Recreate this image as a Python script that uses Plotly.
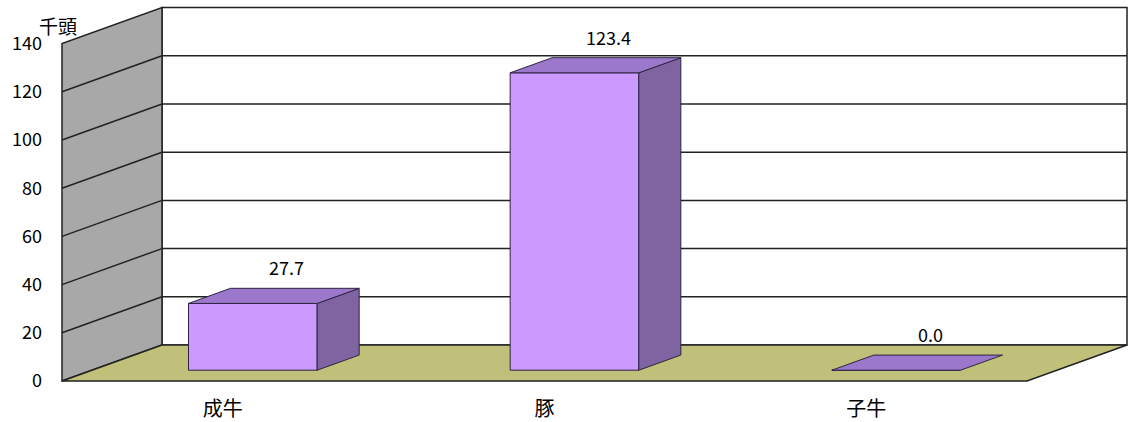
import plotly.graph_objects as go

# ---- data ----
categories = ["成牛", "豚", "子牛"]
values = [27.7, 123.4, 0.0]
value_labels = ["27.7", "123.4", "0.0"]
y_ticks = [0, 20, 40, 60, 80, 100, 120, 140]
unit_label = "千頭"

# ---- pseudo-3D geometry (in axis units) ----
W, H = 1128, 422
PX_X = 321.67           # pixels per category on the front plane
PX_Y = 2.41             # pixels per value unit
X0_PX, Y0_PX = 62, 381  # front-plane origin in figure pixels
DX = 100 / PX_X         # depth offset in x units
DY = 36 / PX_Y          # depth offset in value units
F1, F2 = 0.30, 0.72     # bar front / back depth fractions
HW = 0.2                # bar half width
YMAX = y_ticks[-1]
n = len(categories)
XL, XR = -0.5, n - 0.5

FRONT = "#CC99FF"
SIDE = "#8064A2"
TOP = "#9B78CC"
EDGE = "#2E2440"
FLOOR = "#C0C07A"
WALL = "#A8A8A8"
LINE = "#222222"
FONT = "Noto Sans CJK JP"

fig = go.Figure()

shapes = []
def poly(pts, fill, color=LINE, width=1.5):
    path = "M " + " L ".join(f"{x},{y}" for x, y in pts) + " Z"
    shapes.append(dict(type="path", path=path, xref="x", yref="y",
                       fillcolor=fill, line=dict(color=color, width=width),
                       layer="below"))

# back wall
poly([(XL + DX, DY), (XR + DX, DY), (XR + DX, YMAX + DY), (XL + DX, YMAX + DY)], "white")
# left wall
poly([(XL, 0), (XL + DX, DY), (XL + DX, YMAX + DY), (XL, YMAX)], WALL)
# floor
poly([(XL, 0), (XR, 0), (XR + DX, DY), (XL + DX, DY)], FLOOR)
# gridlines
for t in y_ticks[1:-1]:
    shapes.append(dict(type="line", xref="x", yref="y", x0=XL + DX, x1=XR + DX,
                       y0=t + DY, y1=t + DY, line=dict(color=LINE, width=1.5), layer="below"))
    shapes.append(dict(type="line", xref="x", yref="y", x0=XL, x1=XL + DX,
                       y0=t, y1=t + DY, line=dict(color=LINE, width=1.5), layer="below"))

# bar front faces
xs = [i + F1 * DX for i in range(n)]
fig.add_trace(go.Bar(x=xs, y=values, base=F1 * DY, width=2 * HW,
                     marker=dict(color=FRONT, line=dict(color=EDGE, width=1)),
                     hoverinfo="skip", showlegend=False))

dd = F2 - F1
for i, v in enumerate(values):
    x0 = i - HW + F1 * DX
    x1 = i + HW + F1 * DX
    y0 = F1 * DY
    y1 = v + F1 * DY
    # side face
    if v > 0:
        sx = [x1, x1 + dd * DX, x1 + dd * DX, x1, x1]
        sy = [y0, y0 + dd * DY, y1 + dd * DY, y1, y0]
        fig.add_trace(go.Scatter(x=sx, y=sy, fill="toself", fillcolor=SIDE, mode="lines",
                                 line=dict(color=EDGE, width=1), hoverinfo="skip", showlegend=False))
    # top face
    tx = [x0, x1, x1 + dd * DX, x0 + dd * DX, x0]
    ty = [y1, y1, y1 + dd * DY, y1 + dd * DY, y1]
    fig.add_trace(go.Scatter(x=tx, y=ty, fill="toself", fillcolor=TOP, mode="lines",
                             line=dict(color=EDGE, width=1), hoverinfo="skip", showlegend=False))

annotations = []
for i, (v, lab) in enumerate(zip(values, value_labels)):
    annotations.append(dict(x=i + (F1 + F2) / 2 * DX, y=v + F2 * DY, xref="x", yref="y",
                            text=lab, showarrow=False, yshift=21, xshift=13,
                            xanchor="center", yanchor="middle",
                            font=dict(family=FONT, size=18, color="black")))
annotations.append(dict(x=57.5 / W, y=YMAX, xref="paper", yref="y", text=unit_label,
                        showarrow=False, xanchor="center", yanchor="bottom", yshift=3,
                        font=dict(family=FONT, size=19, color="black")))

xr = [XL - X0_PX / PX_X, XL + (W - X0_PX) / PX_X]
yr = [-(H - Y0_PX) / PX_Y, Y0_PX / PX_Y]

fig.update_layout(
    width=W, height=H, margin=dict(l=0, r=0, t=0, b=0),
    paper_bgcolor="white", plot_bgcolor="white",
    shapes=shapes, annotations=annotations, showlegend=False,
    xaxis=dict(range=xr, tickvals=list(range(n)), ticktext=categories,
               showgrid=False, zeroline=False, showline=False, ticks="",
               anchor="free", position=(H - Y0_PX) / H, ticklabelstandoff=14,
               tickfont=dict(family=FONT, size=20, color="black"), fixedrange=True),
    yaxis=dict(range=yr, tickvals=y_ticks, showgrid=False, zeroline=False,
               showline=False, ticks="", anchor="free", position=X0_PX / W,
               ticklabelstandoff=20,
               tickfont=dict(family=FONT, size=18, color="black"), fixedrange=True),
)

fig.write_html("out.html", config={"displayModeBar": False},
               post_script="document.body.style.margin='0px';"
                           "document.body.style.overflow='hidden';")
